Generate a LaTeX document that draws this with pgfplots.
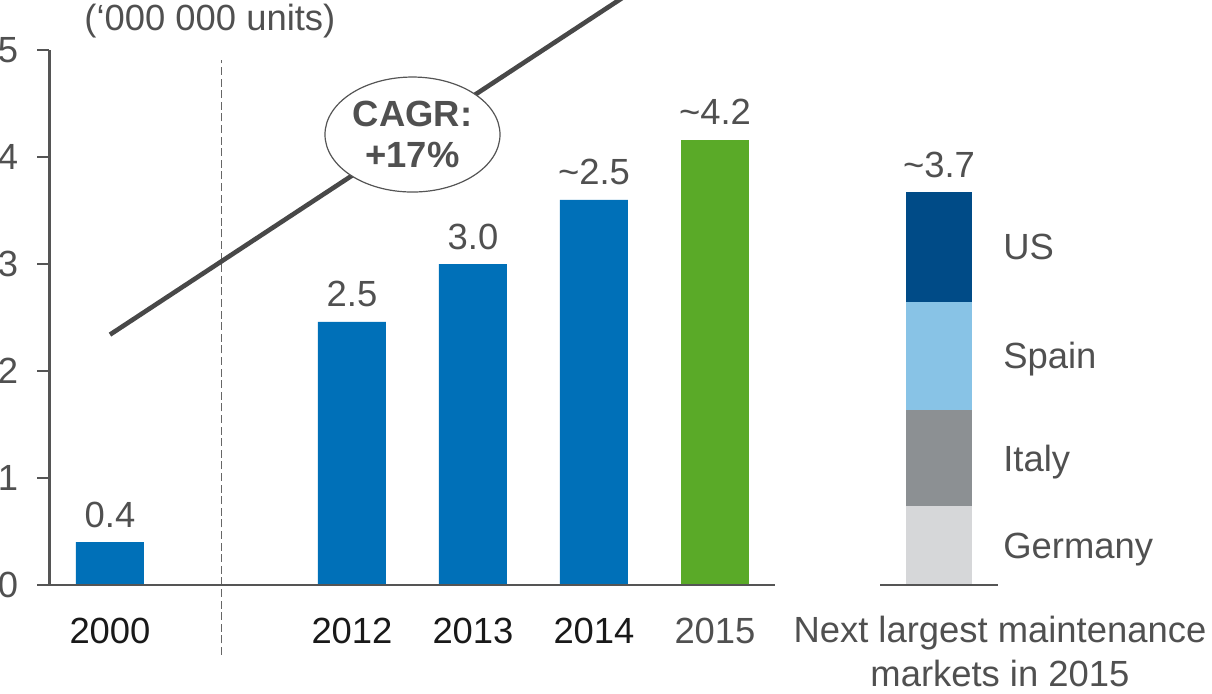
\documentclass[border=0pt]{standalone}
\usepackage{pgfplots}
\pgfplotsset{compat=1.18}
\usetikzlibrary{shapes.geometric}
\usepackage{fontspec}
\setmainfont{Liberation Sans}
\definecolor{cblue}{RGB}{0,112,184}
\definecolor{cgreen}{RGB}{90,170,40}
\definecolor{cus}{RGB}{0,75,135}
\definecolor{cspain}{RGB}{136,195,230}
\definecolor{citaly}{RGB}{140,144,147}
\definecolor{cgermany}{RGB}{214,215,217}
\definecolor{caxis}{RGB}{85,85,85}
\definecolor{ctext}{RGB}{80,80,80}
\definecolor{cline}{RGB}{72,72,72}
\newcommand\f{\fontsize{18.2}{20.5}\selectfont}
\begin{document}
\begin{tikzpicture}
\useasboundingbox (-55pt,-54pt) rectangle (551pt,292.5pt);
\begin{axis}[
  at={(0,0)}, anchor=origin,
  x=60.5pt, y=53.5pt,
  xmin=-0.5, xmax=7.5, ymin=0, ymax=5,
  clip=false,
  axis lines=left,
  x axis line style={draw=none},
  y axis line style={-, draw=caxis, line width=1.2pt},
  tick align=outside,
  major tick length=6pt,
  ytick={0,1,2,3,4,5},
  ytick style={draw=caxis, line width=1.2pt},
  xtick={0,2,3,4,5},
  xticklabels={2000,2012,2013,2014,\textcolor{ctext}{2015}},
  xtick style={draw=none},
  xticklabel style={font=\f, text=black!90, anchor=base, inner sep=0pt, yshift=-23pt},
  yticklabel style={font=\f, text=ctext, anchor=east, inner sep=0pt, xshift=-9.5pt},
  /pgf/number format/assume math mode=true,
]
% dashed separator
\addplot[draw=caxis!90, line width=0.8pt, dash pattern=on 4pt off 1.8pt] coordinates {(0.92,-0.654) (0.92,4.91)};
% bars
\addplot[ybar, bar width=34pt, bar shift=0pt, fill=cblue, draw=none,
  nodes near coords, point meta=explicit symbolic,
  every node near coord/.append style={font=\f, text=ctext, anchor=base, inner sep=0pt, yshift=7.5pt}]
  coordinates {(0,0.40)[0.4] (2,2.46)[2.5] (3,3.00)[3.0] (4,3.60)[\textasciitilde2.5]};
\addplot[ybar, bar width=34pt, bar shift=0pt, fill=cgreen, draw=none,
  nodes near coords, point meta=explicit symbolic,
  every node near coord/.append style={font=\f, text=ctext, anchor=base, inner sep=0pt, yshift=7.5pt}]
  coordinates {(5,4.16)[\textasciitilde4.2]};
% trend line
\addplot[cline, line width=2.3pt] coordinates {(0,2.34) (4.4,5.61)};
% baselines
\addplot[caxis, line width=1.2pt] coordinates {(-0.595,0) (5.5,0)};
% CAGR bubble
\node[ellipse, draw=caxis, line width=0.6pt, fill=white, minimum width=87.5pt, minimum height=57.5pt,
  inner sep=0pt, align=center, font=\f\bfseries, text=ctext] at (axis cs:2.5,4.21) {CAGR:\\+17\%};
% units
\node[anchor=base, font=\f, text=ctext, inner sep=0pt] at (axis cs:0.826,5.178) {(‘000 000 units)};
% stack labels
\node[anchor=base, font=\f, text=ctext, inner sep=0pt] at (axis cs:6.851,3.81) {\textasciitilde3.7};
\node[anchor=base west, font=\f, text=ctext, inner sep=0pt] at (axis cs:7.38,3.04) {US};
\node[anchor=base west, font=\f, text=ctext, inner sep=0pt] at (axis cs:7.38,2.02) {Spain};
\node[anchor=base west, font=\f, text=ctext, inner sep=0pt] at (axis cs:7.38,1.06) {Italy};
\node[anchor=base west, font=\f, text=ctext, inner sep=0pt] at (axis cs:7.38,0.25) {Germany};
\node[anchor=base, font=\f, text=ctext, inner sep=0pt] at (axis cs:7.355,-0.533) {Next largest maintenance};
\node[anchor=base, font=\f, text=ctext, inner sep=0pt] at (axis cs:7.355,-0.953) {markets in 2015};
\end{axis}
\begin{axis}[
  at={(0,0)}, anchor=origin,
  x=60.5pt, y=53.5pt,
  xmin=-0.5, xmax=7.5, ymin=0, ymax=5,
  hide axis, clip=false,
  ybar stacked, bar width=33.2pt,
]
\addplot[fill=cgermany, draw=none] coordinates {(6.851,0.738)};
\addplot[fill=citaly, draw=none] coordinates {(6.851,0.898)};
\addplot[fill=cspain, draw=none] coordinates {(6.851,1.009)};
\addplot[fill=cus, draw=none] coordinates {(6.851,1.025)};
\end{axis}
\begin{axis}[
  at={(0,0)}, anchor=origin,
  x=60.5pt, y=53.5pt,
  xmin=-0.5, xmax=7.5, ymin=0, ymax=5,
  hide axis, clip=false,
]
\addplot[caxis, line width=1.2pt] coordinates {(6.365,0) (7.34,0)};
\end{axis}
\end{tikzpicture}
\end{document}
